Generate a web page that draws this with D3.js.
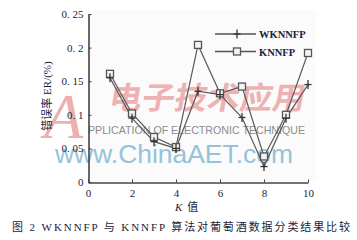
<!DOCTYPE html>
<html>
<head>
<meta charset="utf-8">
<script src="https://cdn.jsdelivr.net/npm/d3@7"></script>
<style>
  body { margin: 0; background: #fff; }
  .axis path, .axis line { stroke: #444; }
  .axis text { font-family: "Liberation Serif", serif; font-size: 11px; fill: #1c1c3a; }
</style>
</head>
<body>
<script>
// data
const kValues = [1, 2, 3, 4, 5, 6, 7, 8, 9, 10];
const wknnfp = [0.155, 0.095, 0.06, 0.05, 0.135, 0.13, 0.096, 0.023, 0.095, 0.145];
const knnfp = [0.161, 0.102, 0.067, 0.052, 0.204, 0.132, 0.142, 0.038, 0.1, 0.192];
const xTicks = [0, 2, 4, 6, 8, 10];
const yTicks = [0, 0.05, 0.1, 0.15, 0.2, 0.25];
const yTickLabels = ["0", "0. 05", "0. 1", "0. 15", "0. 2", "0. 25"];
const seriesNames = ["WKNNFP", "KNNFP"];

let svg = null, x = null, y = null;

svg = d3.select("body").append("svg")
  .attr("width", 357)
  .attr("height", 240);

x = d3.scaleLinear().domain([0, 10]).range([88, 308]);
y = d3.scaleLinear().domain([0, 0.25]).range([182, 14]);

// faint plot background
svg.append("rect")
  .attr("x", 89).attr("y", 10)
  .attr("width", 227).attr("height", 172)
  .attr("fill", "#fbfbfb");

// watermark
svg.append("text")
  .attr("x", 44).attr("y", 138)
  .attr("font-family", "Liberation Serif, serif")
  .attr("font-style", "italic")
  .attr("font-size", 64)
  .attr("fill", "#eaa3a3")
  .attr("opacity", 0.85)
  .text("A");
svg.append("text")
  .attr("x", 108).attr("y", 109)
  .attr("font-family", "Noto Sans CJK SC")
  .attr("font-weight", 700)
  .attr("font-size", 31)
  .attr("fill", "#eca6a6")
  .attr("opacity", 0.85)
  .attr("textLength", 196)
  .attr("lengthAdjust", "spacingAndGlyphs")
  .attr("transform", "skewX(-10) translate(19,0)")
  .text("电子技术应用");
svg.append("text")
  .attr("x", 88).attr("y", 134)
  .attr("font-family", "Liberation Sans, sans-serif")
  .attr("font-size", 11)
  .attr("fill", "#8c8c8c")
  .attr("textLength", 217)
  .attr("lengthAdjust", "spacingAndGlyphs")
  .text("PPLICATION OF ELECTRONIC TECHNIQUE");
svg.append("text")
  .attr("x", 55).attr("y", 163)
  .attr("font-family", "Liberation Sans, sans-serif")
  .attr("font-size", 25)
  .attr("fill", "#8dbcd8")
  .attr("opacity", 0.9)
  .attr("textLength", 238)
  .attr("lengthAdjust", "spacingAndGlyphs")
  .text("www.ChinaAET.com");

// axes
svg.append("g")
  .attr("class", "axis")
  .attr("transform", "translate(0,182.5)")
  .call(d3.axisBottom(x).tickValues(xTicks).tickSizeInner(-3).tickSizeOuter(0).tickPadding(7))
  .call(g => g.select(".domain").attr("stroke-width", 1.6))
  .call(g => g.selectAll(".tick line").attr("stroke", "#777"));

svg.append("g")
  .attr("class", "axis")
  .attr("transform", "translate(88.5,0)")
  .call(d3.axisLeft(y).tickValues(yTicks).tickSizeInner(-3).tickSizeOuter(0).tickPadding(5)
    .tickFormat((d, i) => yTickLabels[i]))
  .call(g => g.select(".domain").attr("stroke-width", 1.6))
  .call(g => g.selectAll(".tick line").attr("stroke", "#999"));

// axis titles
svg.append("text")
  .attr("transform", "translate(51,96) rotate(-90)")
  .attr("text-anchor", "middle")
  .attr("font-size", 11)
  .attr("fill", "#1c1c3a")
  .attr("font-family", "Liberation Serif, Noto Sans CJK SC, serif")
  .text("错误率 ER/(%)");

const xTitle = svg.append("text")
  .attr("x", 175).attr("y", 211)
  .attr("font-size", 11)
  .attr("fill", "#1c1c3a")
  .attr("font-family", "Liberation Serif, Noto Sans CJK SC, serif");
xTitle.append("tspan").attr("font-style", "italic").text("K");
xTitle.append("tspan").attr("dx", 5).text("值");

// lines
const line = d3.line().x((d, i) => x(kValues[i])).y(d => y(d));

svg.append("path").datum(knnfp)
  .attr("fill", "none").attr("stroke", "#5a5a5a").attr("stroke-width", 1.2)
  .attr("d", line);
svg.append("path").datum(wknnfp)
  .attr("fill", "none").attr("stroke", "#5a5a5a").attr("stroke-width", 1.2)
  .attr("d", line);

// markers
function plusMarker(sel) {
  sel.append("line").attr("x1", 0).attr("x2", 0).attr("y1", -4.5).attr("y2", 4.5);
  sel.append("line").attr("x1", -3.5).attr("x2", 3.5).attr("y1", 0).attr("y2", 0);
  sel.selectAll("line").attr("stroke", "#333").attr("stroke-width", 1.3);
}
function squareMarker(sel) {
  sel.append("rect")
    .attr("x", -3.5).attr("y", -3.5).attr("width", 7).attr("height", 7)
    .attr("fill", "#f4f4f4").attr("stroke", "#555").attr("stroke-width", 1.3);
}

svg.selectAll(".sq").data(knnfp).enter().append("g")
  .attr("class", "sq")
  .attr("transform", (d, i) => `translate(${x(kValues[i])},${y(d)})`)
  .call(squareMarker);

svg.selectAll(".pl").data(wknnfp).enter().append("g")
  .attr("class", "pl")
  .attr("transform", (d, i) => `translate(${x(kValues[i])},${y(d)})`)
  .call(plusMarker);

// legend
const legend = svg.append("g");
seriesNames.forEach((name, i) => {
  const ly = 34 + i * 17.5;
  legend.append("line")
    .attr("x1", 215).attr("x2", 256).attr("y1", ly).attr("y2", ly)
    .attr("stroke", "#555").attr("stroke-width", 1.3);
  const m = legend.append("g").attr("transform", `translate(237,${ly})`);
  if (i === 0) plusMarker(m); else squareMarker(m);
  legend.append("text")
    .attr("x", 259).attr("y", ly + 4)
    .attr("font-family", "Liberation Serif, serif")
    .attr("font-size", 10.5)
    .attr("font-weight", 700)
    .attr("fill", "#1c1c3a")
    .text(name);
});

// caption
svg.append("text")
  .attr("x", 12).attr("y", 231)
  .attr("font-size", 11)
  .attr("fill", "#1c1c3a")
  .attr("font-family", "Liberation Serif, Noto Sans CJK SC, serif")
  .attr("textLength", 338)
  .attr("lengthAdjust", "spacing")
  .text("图 2 WKNNFP 与 KNNFP 算法对葡萄酒数据分类结果比较");
</script>
</body>
</html>
